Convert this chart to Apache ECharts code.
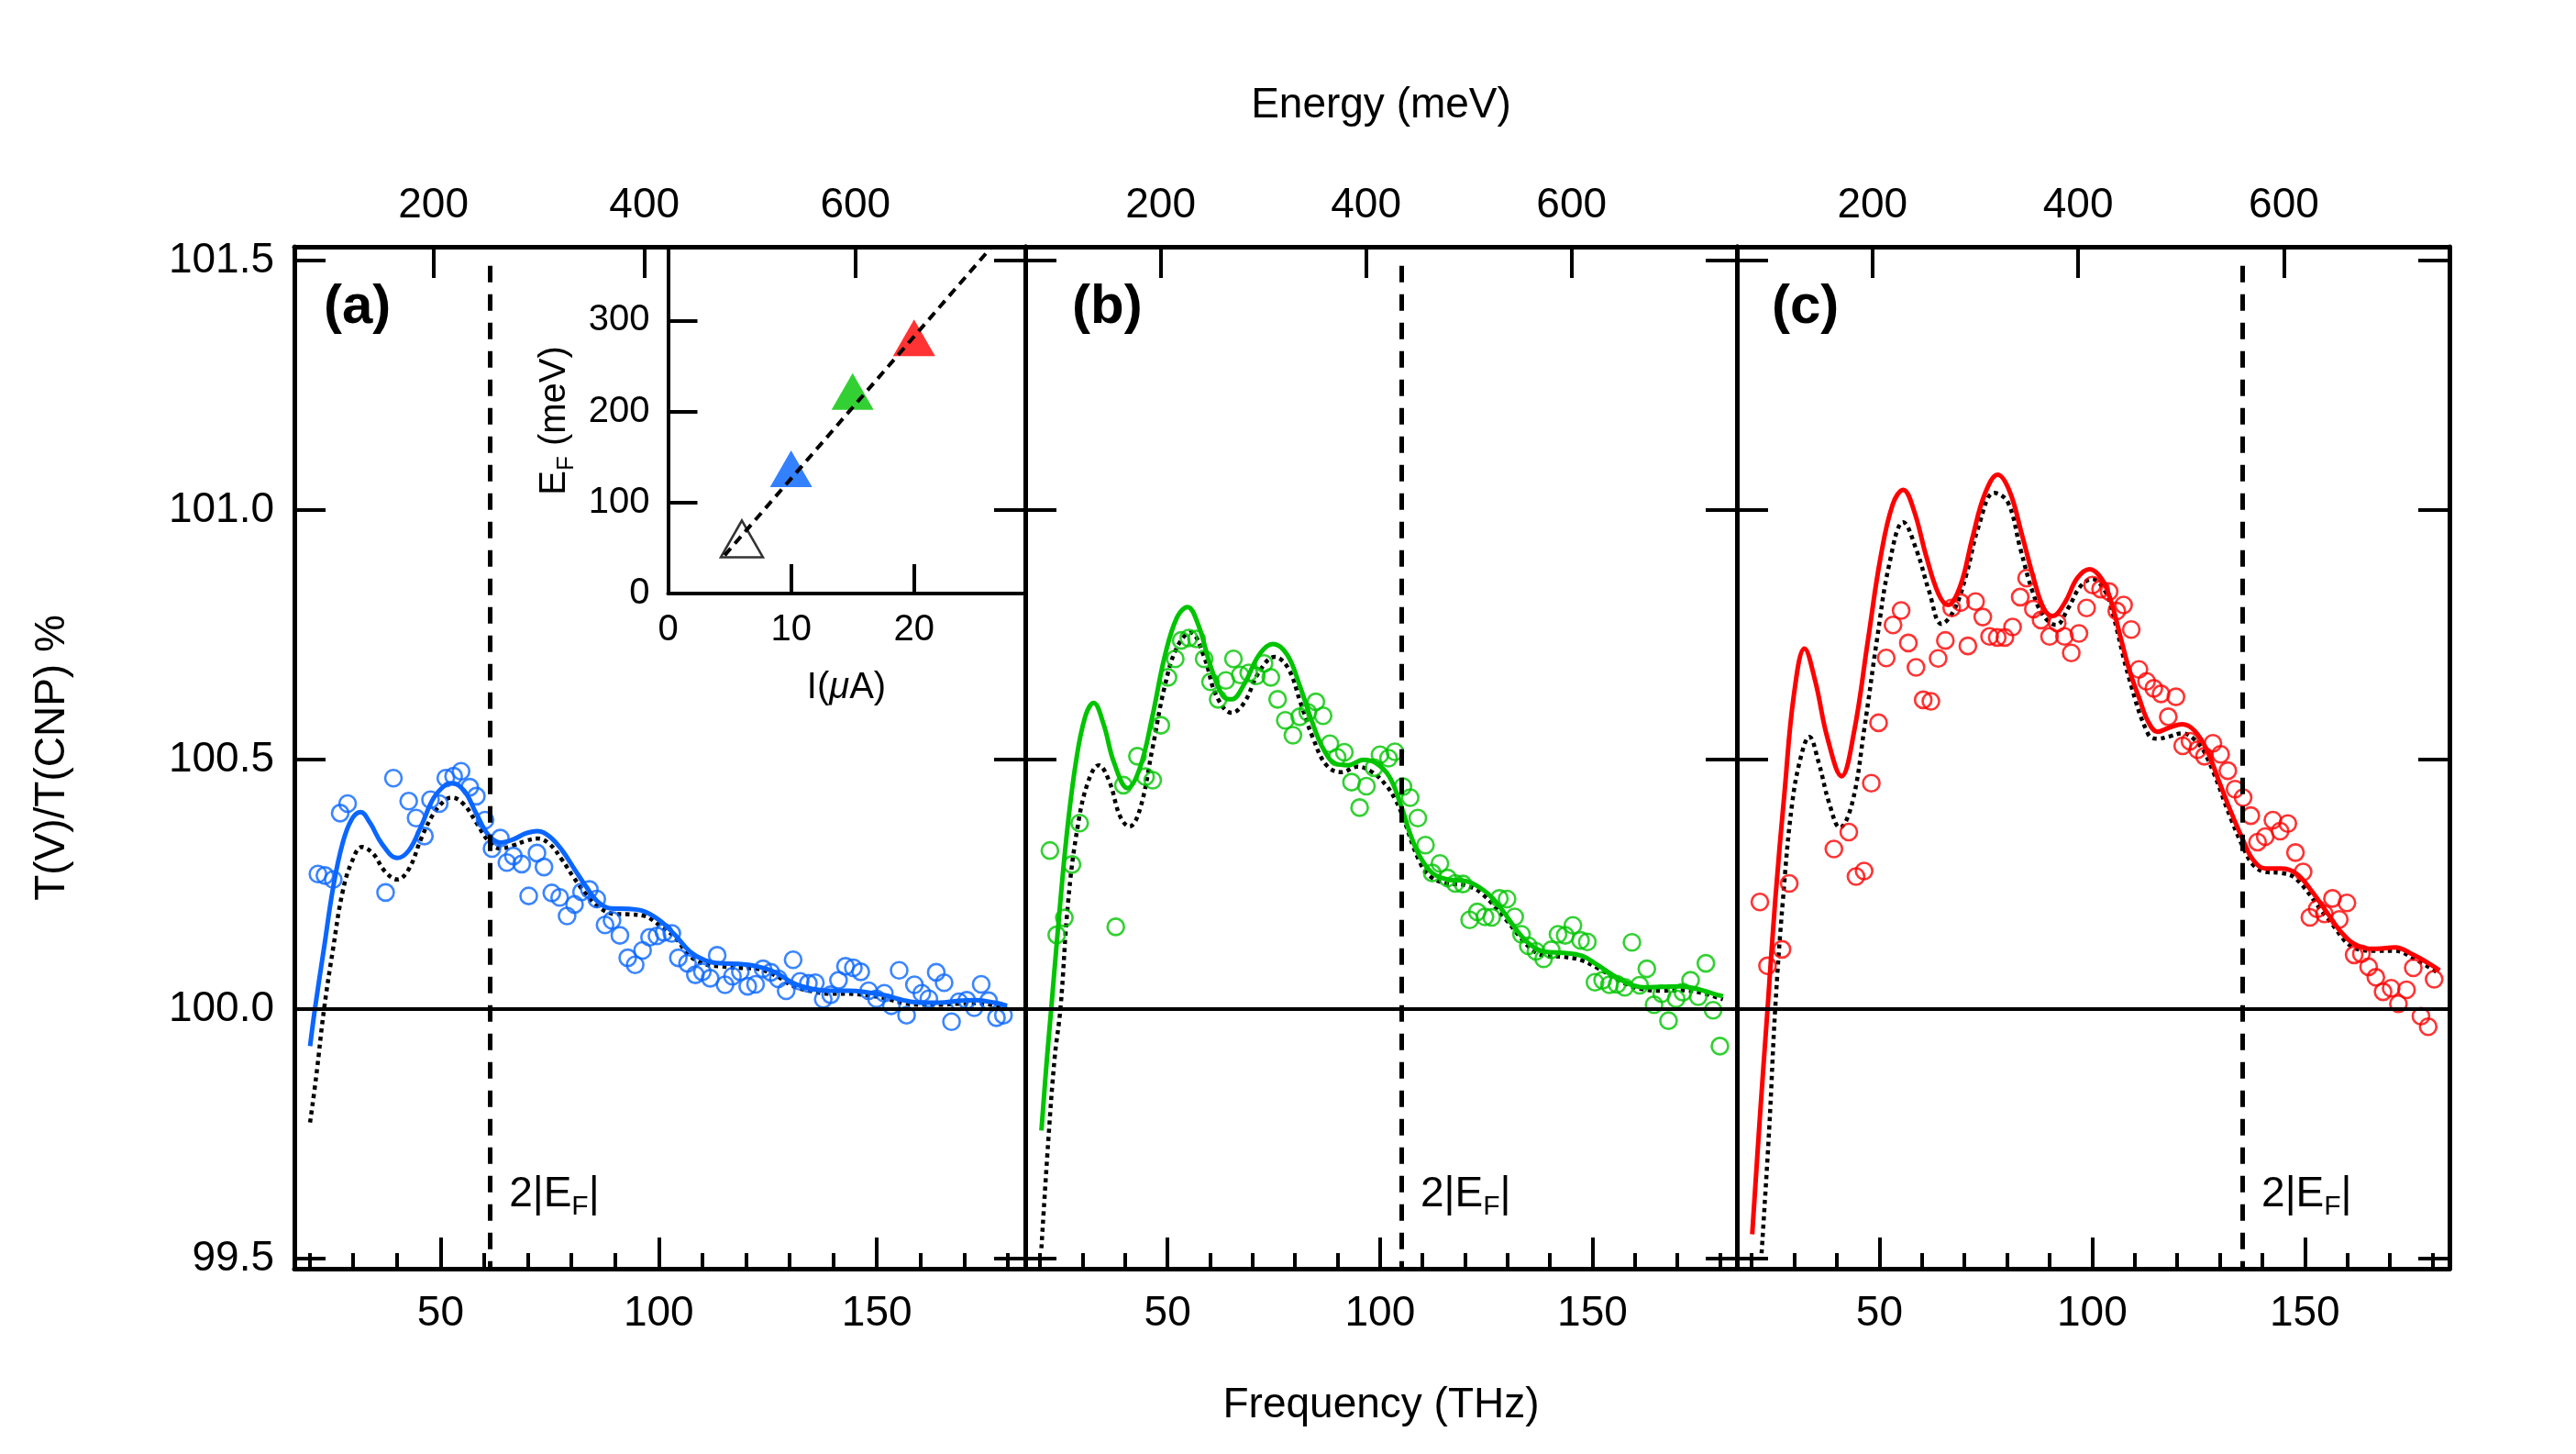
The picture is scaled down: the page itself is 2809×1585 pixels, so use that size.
<!DOCTYPE html>
<html>
<head>
<meta charset="utf-8">
<script src="https://cdn.jsdelivr.net/npm/echarts@6/dist/echarts.min.js"></script>
<style>
  html, body { margin: 0; padding: 0; background: #fff; }
  #chart { width: 2809px; height: 1585px; }
</style>
</head>
<body>
<div id="chart"></div>
<script>
  // ---------- values ----------
  // [frequency THz, T(V)/T(CNP) %]
  const circlesA = [[21.9,100.271],[23.5,100.268],[25.4,100.26],[27.0,100.393],[28.7,100.412],[37.4,100.234],[39.2,100.463],[42.7,100.417],[44.4,100.383],[46.3,100.347],[47.7,100.42],[49.7,100.412],[51.2,100.463],[53.0,100.467],[54.7,100.477],[56.7,100.445],[58.2,100.427],[60.2,100.379],[61.8,100.322],[63.7,100.343],[65.2,100.294],[66.7,100.307],[68.6,100.291],[70.2,100.227],[72.1,100.313],[73.7,100.285],[75.5,100.233],[77.3,100.224],[79.0,100.187],[80.7,100.21],[82.3,100.235],[84.1,100.24],[85.8,100.221],[87.7,100.169],[89.3,100.178],[91.1,100.148],[92.9,100.103],[94.6,100.089],[96.3,100.118],[97.9,100.144],[99.6,100.147],[101.2,100.154],[103.0,100.152],[104.5,100.103],[106.6,100.092],[108.4,100.069],[110.0,100.075],[111.8,100.062],[113.4,100.108],[115.2,100.049],[116.9,100.066],[118.7,100.075],[120.4,100.046],[122.2,100.05],[123.9,100.081],[125.7,100.074],[127.4,100.061],[129.2,100.037],[130.8,100.099],[132.4,100.056],[134.3,100.052],[135.9,100.053],[137.7,100.02],[139.4,100.029],[141.2,100.058],[142.8,100.086],[144.6,100.083],[146.3,100.075],[148.1,100.037],[149.9,100.021],[151.7,100.032],[153.3,100.007],[155.1,100.078],[156.8,99.988],[158.6,100.049],[160.3,100.032],[161.9,100.021],[163.6,100.074],[165.4,100.053],[167.1,99.975],[168.8,100.015],[170.6,100.018],[172.3,100.003],[173.9,100.05],[175.6,100.017],[177.4,99.983],[179.0,99.988]];
  const solidA = [[20.1,99.926],[21.2,100.0],[23.3,100.123],[25.4,100.245],[27.5,100.331],[29.6,100.38],[31.7,100.395],[33.8,100.374],[36.6,100.331],[40.1,100.303],[42.8,100.319],[45.6,100.368],[48.4,100.423],[51.2,100.45],[52.6,100.453],[55.4,100.438],[58.2,100.392],[61.0,100.349],[63.8,100.334],[66.6,100.34],[69.4,100.352],[72.2,100.357],[75.0,100.346],[77.8,100.319],[80.6,100.282],[83.4,100.245],[86.2,100.214],[89.0,100.202],[93.2,100.201],[96.7,100.196],[100.2,100.178],[103.6,100.15],[107.1,100.116],[110.6,100.098],[114.1,100.092],[118.3,100.091],[122.5,100.086],[126.7,100.074],[130.9,100.052],[135.1,100.041],[139.3,100.037],[143.5,100.037],[147.7,100.034],[151.9,100.028],[156.1,100.018],[160.3,100.013],[164.4,100.013],[168.6,100.017],[172.8,100.018],[177.0,100.013],[179.8,100.007]];
  const dottedA = [[20.1,99.773],[21.5,99.865],[23.3,100.0],[25.4,100.123],[27.5,100.233],[29.6,100.294],[32.0,100.325],[34.5,100.312],[37.3,100.276],[40.1,100.26],[42.8,100.282],[45.6,100.343],[48.4,100.392],[51.2,100.42],[52.6,100.424],[55.4,100.41],[58.2,100.374],[61.0,100.337],[63.8,100.322],[66.6,100.328],[69.4,100.337],[72.2,100.342],[75.0,100.331],[77.8,100.30],[80.6,100.263],[83.4,100.23],[86.2,100.205],[89.7,100.191],[93.2,100.19],[96.7,100.187],[100.2,100.168],[103.6,100.145],[107.1,100.107],[110.6,100.09],[114.1,100.086],[118.3,100.083],[122.5,100.081],[126.7,100.068],[130.9,100.046],[135.1,100.036],[139.3,100.031],[143.5,100.031],[147.7,100.028],[151.9,100.022],[156.1,100.012],[160.3,100.009],[164.4,100.009],[168.6,100.011],[172.8,100.012],[177.0,100.008],[179.8,100.005]];

  const circlesB = [[22.3,100.318],[23.9,100.149],[25.7,100.183],[27.5,100.29],[29.3,100.373],[37.8,100.165],[39.6,100.449],[42.9,100.507],[44.8,100.466],[46.5,100.459],[48.4,100.569],[50.1,100.665],[51.8,100.702],[53.2,100.739],[55.0,100.744],[56.8,100.742],[58.6,100.702],[60.1,100.656],[61.9,100.621],[63.7,100.659],[65.5,100.702],[67.1,100.67],[69.1,100.674],[70.9,100.668],[72.7,100.693],[74.3,100.665],[75.9,100.621],[77.7,100.579],[79.5,100.549],[81.1,100.586],[83.0,100.595],[84.9,100.616],[86.6,100.588],[88.2,100.532],[89.9,100.505],[91.6,100.515],[93.3,100.455],[95.2,100.404],[96.8,100.447],[98.6,100.484],[100.0,100.51],[102.0,100.503],[103.5,100.516],[105.4,100.446],[107.1,100.424],[108.9,100.383],[110.7,100.329],[112.3,100.273],[114.1,100.292],[115.9,100.263],[117.7,100.252],[119.5,100.251],[121.1,100.179],[122.9,100.195],[124.7,100.185],[126.3,100.184],[128.1,100.222],[129.9,100.221],[131.7,100.185],[133.3,100.15],[134.9,100.127],[136.7,100.116],[138.5,100.101],[140.3,100.119],[141.9,100.15],[143.6,100.148],[145.4,100.168],[147.2,100.138],[148.8,100.135],[150.6,100.054],[152.4,100.058],[154.0,100.049],[155.8,100.05],[157.6,100.044],[159.3,100.134],[161.1,100.048],[162.8,100.081],[164.5,100.009],[166.3,100.031],[167.9,99.977],[169.7,100.021],[171.3,100.034],[173.1,100.058],[174.9,100.025],[176.7,100.092],[178.4,99.998],[180.0,99.926]];
  const solidB = [[20.3,99.757],[21.6,99.901],[22.6,100.0],[24.1,100.151],[26.2,100.345],[28.4,100.494],[30.6,100.586],[32.6,100.614],[34.9,100.572],[37.4,100.494],[40.6,100.443],[43.5,100.484],[46.4,100.586],[49.3,100.706],[52.2,100.785],[54.7,100.806],[57.2,100.771],[60.1,100.688],[63.0,100.628],[65.1,100.621],[68.0,100.651],[71.6,100.711],[74.8,100.732],[78.1,100.711],[81.0,100.651],[83.8,100.581],[86.7,100.521],[89.6,100.492],[92.5,100.489],[96.1,100.5],[98.9,100.494],[102.2,100.466],[105.1,100.404],[107.2,100.349],[109.4,100.306],[112.3,100.273],[115.9,100.26],[120.2,100.257],[123.8,100.242],[126.7,100.221],[129.5,100.19],[132.4,100.156],[135.3,100.13],[138.9,100.115],[143.2,100.113],[147.5,100.107],[151.1,100.089],[154.7,100.069],[158.3,100.052],[161.9,100.044],[166.3,100.045],[170.6,100.046],[174.9,100.04],[178.5,100.031],[180.7,100.026]];
  const dottedB = [[20.3,99.521],[21.9,99.734],[23.4,99.901],[24.8,100.003],[26.6,100.216],[28.8,100.364],[31.3,100.456],[33.8,100.489],[36.3,100.456],[38.8,100.387],[41.0,100.366],[43.5,100.401],[46.4,100.521],[49.3,100.646],[52.2,100.725],[55.4,100.755],[58.6,100.706],[61.5,100.628],[65.1,100.594],[68.0,100.614],[71.6,100.677],[75.2,100.706],[78.4,100.683],[81.3,100.614],[84.2,100.544],[87.4,100.489],[91.0,100.475],[94.6,100.486],[98.2,100.475],[101.6,100.447],[103.6,100.42],[105.1,100.392],[109.4,100.294],[112.3,100.263],[115.9,100.252],[120.2,100.248],[123.8,100.233],[129.5,100.181],[135.3,100.123],[138.9,100.107],[143.2,100.105],[147.5,100.098],[151.1,100.083],[158.3,100.049],[161.9,100.04],[166.3,100.037],[170.6,100.038],[174.9,100.034],[180.7,100.02]];

  const circlesC = [[21.9,100.215],[23.7,100.087],[27.1,100.12],[28.8,100.252],[39.3,100.321],[42.8,100.355],[44.5,100.266],[46.4,100.277],[48.1,100.453],[49.8,100.574],[51.6,100.704],[53.2,100.77],[55.1,100.799],[56.8,100.734],[58.6,100.685],[60.3,100.62],[62.1,100.617],[63.8,100.703],[65.5,100.739],[67.0,100.804],[69.1,100.815],[70.8,100.728],[72.6,100.817],[74.3,100.786],[75.9,100.747],[77.7,100.745],[79.5,100.745],[81.3,100.766],[83.1,100.826],[84.6,100.864],[86.2,100.802],[88.0,100.78],[90.0,100.747],[91.8,100.774],[93.5,100.747],[95.1,100.714],[96.9,100.753],[98.7,100.804],[100.1,100.85],[102.0,100.842],[104.0,100.837],[105.8,100.798],[107.4,100.81],[109.2,100.761],[111.0,100.681],[112.8,100.657],[114.5,100.643],[116.2,100.632],[117.9,100.586],[119.7,100.626],[121.3,100.528],[123.0,100.537],[124.8,100.52],[126.4,100.507],[128.4,100.533],[130.2,100.511],[131.9,100.478],[133.6,100.441],[135.5,100.424],[137.3,100.388],[138.9,100.335],[140.7,100.346],[142.5,100.379],[144.2,100.357],[146.0,100.372],[147.8,100.314],[149.6,100.275],[151.2,100.184],[152.9,100.201],[154.6,100.191],[156.5,100.222],[158.1,100.18],[159.9,100.213],[161.6,100.109],[163.3,100.111],[165.0,100.085],[166.7,100.064],[168.4,100.035],[170.3,100.042],[172.0,100.011],[173.9,100.039],[175.5,100.083],[177.3,99.986],[179.0,99.965],[180.4,100.06]];
  const solidC = [[20.1,99.549],[21.9,99.783],[23.7,100.0],[25.5,100.217],[27.7,100.435],[29.9,100.63],[32.4,100.723],[34.9,100.658],[37.8,100.543],[41.1,100.467],[44.0,100.554],[47.3,100.739],[50.2,100.902],[53.1,101.011],[55.6,101.041],[58.1,101.0],[61.0,100.908],[63.9,100.832],[66.1,100.81],[69.0,100.848],[71.9,100.946],[74.8,101.033],[77.8,101.071],[80.6,101.038],[83.5,100.951],[86.4,100.859],[88.6,100.804],[90.7,100.788],[93.6,100.815],[96.5,100.864],[99.4,100.882],[102.3,100.862],[104.5,100.816],[106.7,100.745],[108.8,100.678],[111.0,100.625],[113.2,100.576],[115.4,100.556],[118.3,100.565],[121.2,100.571],[124.1,100.558],[127.0,100.519],[129.9,100.455],[132.8,100.392],[135.7,100.335],[137.8,100.3],[140.7,100.282],[144.4,100.282],[148.0,100.272],[151.6,100.237],[155.2,100.194],[158.8,100.152],[162.5,100.127],[166.8,100.121],[171.2,100.124],[175.5,100.109],[179.1,100.092],[181.7,100.078]];
  const dottedC = [[22.3,99.511],[24.1,99.761],[25.5,100.0],[27.3,100.217],[29.5,100.413],[31.7,100.511],[33.5,100.546],[35.7,100.495],[38.2,100.413],[40.7,100.364],[43.6,100.413],[46.5,100.565],[49.4,100.739],[52.3,100.891],[55.6,100.976],[58.8,100.918],[61.7,100.837],[64.6,100.772],[67.5,100.799],[70.4,100.87],[73.3,100.967],[77.0,101.035],[80.2,101.016],[83.1,100.924],[86.0,100.837],[88.6,100.788],[91.5,100.77],[94.4,100.804],[97.3,100.848],[100.1,100.862],[103.1,100.837],[104.5,100.805],[108.8,100.66],[113.2,100.551],[115.4,100.542],[118.3,100.547],[121.2,100.553],[124.1,100.54],[127.0,100.505],[132.8,100.378],[135.7,100.321],[137.8,100.29],[140.7,100.275],[144.4,100.273],[148.0,100.261],[155.2,100.184],[162.5,100.12],[166.8,100.117],[171.2,100.117],[175.5,100.102],[181.7,100.071]];

  // 2|E_F| positions (THz) for panels a, b, c
  const efFreq = [61.4, 105.1, 135.4];

  // inset: current (uA) vs Fermi energy (meV)
  const insetCurrent = [6, 10, 15, 20];
  const insetEnergy = [60, 137, 222, 281];
  const insetFit = [[4.6, 42], [26.25, 380]];

  // axes
  const freqRange = [16.5, 184];
  const yRange = [99.48, 101.528];
  const yTicks = [99.5, 100, 100.5, 101, 101.5];
  const freqMajor = [50, 100, 150];
  const freqMinor = [20, 30, 40, 60, 70, 80, 90, 110, 120, 130, 140, 160, 170, 180];
  const energyTicks = [200, 400, 600];
  const meVperTHz = 4.1357;

  // ---------- chart ----------
  const FONT = '"Liberation Sans", Arial, Helvetica, sans-serif';
  const black = '#000';

  const panels = [
    { left: 321, width: 797, color: '#0a66ff', circles: circlesA, solid: solidA, dotted: dottedA, tag: '(a)', tagLeft: 353 },
    { left: 1118, width: 776, color: '#00c400', circles: circlesB, solid: solidB, dotted: dottedB, tag: '(b)', tagLeft: 1169 },
    { left: 1894, width: 777, color: '#ff0000', circles: circlesC, solid: solidC, dotted: dottedC, tag: '(c)', tagLeft: 1932 }
  ];

  function ticks(len, values) {
    return { show: true, inside: true, length: len, customValues: values, lineStyle: { color: black, width: 4 } };
  }
  const frameLine = { show: true, onZero: false, lineStyle: { color: black, width: 5 } };
  const labelText = { color: black, fontSize: 46, fontFamily: FONT };

  const grid = [], xAxis = [], yAxis = [], series = [], title = [];

  panels.forEach(function (p, i) {
    grid.push({ left: p.left, top: 269, width: p.width, height: 1114, outerBoundsMode: 'none' });

    xAxis.push({
      type: 'value', gridIndex: i, position: 'bottom', min: freqRange[0], max: freqRange[1],
      axisLine: frameLine, axisTick: ticks(34, freqMajor),
      axisLabel: Object.assign({ show: true, customValues: freqMajor, margin: 26 }, labelText),
      splitLine: { show: false },
      name: i === 1 ? 'Frequency (THz)' : '', nameLocation: 'middle', nameGap: 126,
      nameTextStyle: labelText
    });
    xAxis.push({
      type: 'value', gridIndex: i, position: 'bottom', min: freqRange[0], max: freqRange[1],
      axisLine: { show: false }, axisTick: ticks(17, freqMinor),
      axisLabel: { show: false }, splitLine: { show: false }
    });
    xAxis.push({
      type: 'value', gridIndex: i, position: 'top',
      min: freqRange[0] * meVperTHz, max: freqRange[1] * meVperTHz,
      axisLine: frameLine, axisTick: ticks(34, energyTicks),
      axisLabel: Object.assign({ show: true, customValues: energyTicks, margin: 22 }, labelText),
      splitLine: { show: false },
      name: i === 1 ? 'Energy (meV)' : '', nameLocation: 'middle', nameGap: 131,
      nameTextStyle: labelText
    });

    yAxis.push({
      type: 'value', gridIndex: i, position: 'left', min: yRange[0], max: yRange[1],
      axisLine: frameLine, axisTick: ticks(34, yTicks),
      axisLabel: Object.assign({ show: i === 0, customValues: yTicks, margin: 22,
        formatter: function (v) { return v.toFixed(1); } }, labelText),
      splitLine: { show: false },
      name: i === 0 ? 'T(V)/T(CNP) %' : '', nameLocation: 'middle', nameGap: 241,
      nameTextStyle: labelText
    });
    yAxis.push({
      type: 'value', gridIndex: i, position: 'right', min: yRange[0], max: yRange[1],
      axisLine: frameLine, axisTick: ticks(34, yTicks),
      axisLabel: { show: false }, splitLine: { show: false }
    });

    const xi = 3 * i, yi = 2 * i;
    series.push({
      type: 'line', xAxisIndex: xi, yAxisIndex: yi, data: p.dotted, smooth: 0.4,
      symbol: 'none', silent: true, z: 2,
      lineStyle: { color: black, width: 4.5, type: [4.5, 4.5] }
    });
    series.push({
      type: 'scatter', xAxisIndex: xi, yAxisIndex: yi, data: p.circles,
      symbol: 'circle', symbolSize: 18, silent: true, z: 3,
      itemStyle: { color: 'rgba(0,0,0,0)', borderColor: p.color, borderWidth: 2.6 }
    });
    series.push({
      type: 'line', xAxisIndex: xi, yAxisIndex: yi, data: p.solid, smooth: 0.4,
      symbol: 'none', silent: true, z: 4,
      lineStyle: { color: p.color, width: 5 },
      markLine: {
        silent: true, symbol: ['none', 'none'], label: { show: false },
        data: [
          [{ coord: [freqRange[0], 100], lineStyle: { color: black, width: 4, type: 'solid' } },
           { coord: [freqRange[1], 100] }],
          [{ coord: [efFreq[i], 101.49], lineStyle: { color: black, width: 5, type: [18, 13] } },
           { coord: [efFreq[i], yRange[0]] }]
        ]
      },
      markPoint: {
        silent: true, symbol: 'circle', symbolSize: 1,
        itemStyle: { color: 'rgba(0,0,0,0)' },
        label: {
          show: true, position: 'right', distance: 20,
          formatter: '{n|2|E}{s|F}{n||}',
          rich: {
            n: { fontSize: 46, fontFamily: FONT, color: black, lineHeight: 52, verticalAlign: 'top' },
            s: { fontSize: 30, fontFamily: FONT, color: black, lineHeight: 52, verticalAlign: 'bottom' }
          }
        },
        data: [{ coord: [efFreq[i], 99.623] }]
      }
    });

    title.push({
      text: p.tag, left: p.tagLeft, top: 305, padding: 0,
      textStyle: { fontSize: 60, fontWeight: 'bold', fontFamily: FONT, color: black }
    });
  });

  // inset
  grid.push({ left: 728.5, top: 270, width: 389, height: 377, outerBoundsMode: 'none' });
  xAxis.push({
    type: 'value', gridIndex: 3, min: 0, max: 29, interval: 10,
    axisLine: { show: true, onZero: false, lineStyle: { color: black, width: 4 } },
    axisTick: { show: true, inside: true, length: 32, lineStyle: { color: black, width: 4 } },
    axisLabel: { color: black, fontSize: 40, fontFamily: FONT, margin: 20, showMaxLabel: false },
    splitLine: { show: false },
    name: '{a|I(}{i|\u03bc}{a|A)}', nameLocation: 'middle', nameGap: 83,
    nameTextStyle: {
      rich: {
        a: { fontSize: 40, fontFamily: FONT, color: black },
        i: { fontSize: 40, fontFamily: FONT, color: black, fontStyle: 'italic' }
      }
    }
  });
  yAxis.push({
    type: 'value', gridIndex: 3, min: 0, max: 380, interval: 100,
    axisLine: { show: true, onZero: false, lineStyle: { color: black, width: 4 } },
    axisTick: { show: true, inside: true, length: 32, lineStyle: { color: black, width: 4 } },
    axisLabel: { color: black, fontSize: 40, fontFamily: FONT, margin: 20, showMaxLabel: false },
    splitLine: { show: false },
    name: '{a|E}{b|F}{a| (meV)}', nameLocation: 'middle', nameGap: 98,
    nameTextStyle: {
      rich: {
        a: { fontSize: 40, fontFamily: FONT, color: black, lineHeight: 46, verticalAlign: 'top' },
        b: { fontSize: 26, fontFamily: FONT, color: black, lineHeight: 46, verticalAlign: 'bottom' }
      }
    }
  });

  const triangleStyles = [
    { color: 'rgba(0,0,0,0)', borderColor: black, borderWidth: 2.5 },
    { color: '#0062ff' },
    { color: '#00c400' },
    { color: '#ff0000' }
  ];
  series.push({
    type: 'line', xAxisIndex: 9, yAxisIndex: 6, data: insetFit, symbol: 'none', silent: true, z: 5,
    lineStyle: { color: black, width: 4, type: [10, 7] }
  });
  series.push({
    type: 'scatter', xAxisIndex: 9, yAxisIndex: 6, symbol: 'triangle', symbolSize: [46, 40], silent: true, z: 4,
    data: insetCurrent.map(function (c, k) {
      return { value: [c, insetEnergy[k]], itemStyle: triangleStyles[k] };
    })
  });

  const chart = echarts.init(document.getElementById('chart'));
  chart.setOption({
    animation: false,
    backgroundColor: '#fff',
    textStyle: { fontFamily: FONT },
    title: title,
    grid: grid,
    xAxis: xAxis,
    yAxis: yAxis,
    series: series
  });
</script>
</body>
</html>
